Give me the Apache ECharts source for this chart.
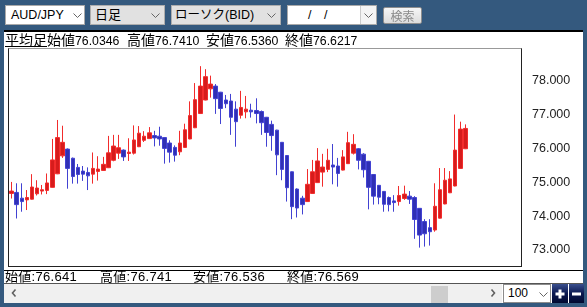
<!DOCTYPE html>
<html><head><meta charset="utf-8">
<script src="https://cdn.jsdelivr.net/npm/echarts@6/dist/echarts.min.js"></script>
<style>
html,body{margin:0;padding:0;width:587px;height:307px;overflow:hidden;background:#34597e;
  font-family:"Liberation Sans","Noto Sans CJK JP",sans-serif;}
.a{position:absolute;box-sizing:border-box;}
.sel{height:20px;border:1px solid #a9a9a9;}
.sel span{position:absolute;top:0;line-height:18px;font-size:12.5px;color:#000;white-space:nowrap;}
.sel svg{position:absolute;top:7px;}
.info{position:absolute;top:32px;height:15px;line-height:15px;font-size:14px;white-space:nowrap;
  font-family:"Noto Sans CJK JP",sans-serif;color:#000;}
.info b{font-weight:normal;font-family:"Liberation Sans",sans-serif;font-size:12.3px;}
.bot{position:absolute;top:270px;height:13px;line-height:13px;font-size:13px;white-space:nowrap;
  font-family:"Liberation Sans","Noto Sans CJK JP",sans-serif;color:#000;letter-spacing:0.3px;}
</style></head>
<body>
<div class="a" style="left:4px;top:30px;width:579px;height:273px;background:#fff;z-index:0"></div>
<div class="a" style="left:4px;top:30px;width:579px;height:2px;background:#000;z-index:1"></div>
<div class="a" style="left:8px;top:48px;width:514px;height:219px;border:1px solid #222;border-top-color:#999;z-index:1"></div>
<div class="a" style="left:4px;top:270px;width:579px;height:1px;background:#000;z-index:1"></div>
<div class="a" style="left:4px;top:283px;width:579px;height:1px;background:#555;z-index:1"></div>
<div class="a" style="left:4px;top:284px;width:498px;height:19px;background:#f0f0f0;z-index:1"></div>

<!-- toolbar -->
<div class="a sel" style="left:5px;top:5px;width:80px;background:#fff;z-index:3">
  <span style="left:5px">AUD/JPY</span>
  <svg style="left:67px" width="9" height="5"><polyline points="0.5,0.5 4.5,4.5 8.5,0.5" fill="none" stroke="#666" stroke-width="1"/></svg>
</div>
<div class="a sel" style="left:90px;top:5px;width:75px;background:#e1e1e1;border-color:#adadad;z-index:3">
  <span style="left:4px;font-size:13px">日足</span>
  <svg style="left:60px" width="9" height="5"><polyline points="0.5,0.5 4.5,4.5 8.5,0.5" fill="none" stroke="#666" stroke-width="1"/></svg>
</div>
<div class="a sel" style="left:171px;top:5px;width:110px;background:#e1e1e1;border-color:#adadad;z-index:3">
  <span style="left:3px">ローソク(BID)</span>
  <svg style="left:95px" width="9" height="5"><polyline points="0.5,0.5 4.5,4.5 8.5,0.5" fill="none" stroke="#666" stroke-width="1"/></svg>
</div>
<div class="a sel" style="left:287px;top:5px;width:90px;background:#fff;z-index:3">
  <span style="left:20px">/</span><span style="left:36px">/</span>
  <div class="a" style="left:72px;top:0;width:16px;height:18px;border-left:1px solid #ccc;background:#f4f4f4"></div>
  <svg style="left:76px" width="9" height="5"><polyline points="0.5,0.5 4.5,4.5 8.5,0.5" fill="none" stroke="#666" stroke-width="1"/></svg>
</div>
<div class="a" style="left:383px;top:7px;width:39px;height:17px;border:1px solid #8e8e8e;border-radius:2px;
  background:linear-gradient(#f6f6f6,#dcdcdc);z-index:3;text-align:center;line-height:15px;font-size:12px;color:#8a8a8a;
  font-family:'Noto Sans CJK JP',sans-serif">検索</div>

<!-- info line -->
<div class="info" style="left:5px;text-decoration:underline;z-index:3">平均足</div>
<div class="info" style="left:47px;z-index:3">始値<b>76.0346</b></div>
<div class="info" style="left:127px;z-index:3">高値<b>76.7410</b></div>
<div class="info" style="left:206px;z-index:3">安値<b>76.5360</b></div>
<div class="info" style="left:285px;z-index:3">終値<b>76.6217</b></div>

<!-- bottom info -->
<div class="bot" style="left:5px;z-index:3">始値:76.641</div>
<div class="bot" style="left:100px;z-index:3">高値:76.741</div>
<div class="bot" style="left:193px;z-index:3">安値:76.536</div>
<div class="bot" style="left:287px;z-index:3">終値:76.569</div>

<!-- scrollbar -->
<div class="a" style="left:10px;top:286px;width:8px;height:14px;z-index:3">
  <svg width="8" height="14"><polyline points="5.5,3.5 2.5,7 5.5,10.5" fill="none" stroke="#606060" stroke-width="1.6"/></svg></div>
<div class="a" style="left:489px;top:286px;width:8px;height:14px;z-index:3">
  <svg width="8" height="14"><polyline points="2.5,3.5 5.5,7 2.5,10.5" fill="none" stroke="#606060" stroke-width="1.6"/></svg></div>
<div class="a" style="left:431px;top:286px;width:17px;height:17px;background:#cdcdcd;z-index:3"></div>
<div class="a" style="left:503px;top:284px;width:48px;height:19px;background:#fff;border:1px solid #8c8c8c;z-index:3">
  <span style="position:absolute;left:4px;top:0;line-height:17px;font-size:12px">100</span>
  <svg style="position:absolute;left:35px;top:7px" width="9" height="5"><polyline points="0.5,0.5 4.5,4.5 8.5,0.5" fill="none" stroke="#666" stroke-width="1"/></svg>
</div>
<div class="a" style="left:552px;top:284px;width:16px;height:19px;background:linear-gradient(#3a4f8e,#0a1850 50%,#020a30);z-index:3">
  <svg width="16" height="19"><rect x="6.5" y="5.5" width="3" height="9" fill="#fff"/><rect x="3.5" y="8.5" width="9" height="3" fill="#fff"/></svg></div>
<div class="a" style="left:569px;top:284px;width:15px;height:19px;background:linear-gradient(#3a4f8e,#0a1850 50%,#020a30);z-index:3">
  <svg width="15" height="19"><rect x="3" y="8.5" width="9" height="3" fill="#fff"/></svg></div>

<div id="chart" class="a" style="left:0;top:0;width:587px;height:307px;z-index:2"></div>
<script>
const opens  = [74.67,74.70,74.53,74.48,74.50,74.66,74.74,74.76,74.85,75.25,
  75.78,75.98,75.71,75.44,75.33,75.29,75.24,75.32,75.35,75.43,
  75.65,75.86,75.95,75.85,75.86,76.05,76.24,76.29,76.38,76.36,
  76.32,76.16,76.03,75.90,76.03,76.28,76.61,77.03,77.43,77.76,
  77.84,77.66,77.43,77.40,77.16,76.98,77.08,77.13,77.12,77.09,
  76.92,76.71,76.54,76.18,75.79,75.31,74.80,74.53,74.43,74.67,
  74.99,75.30,75.38,75.51,75.48,75.36,75.55,75.86,75.99,75.83,
  75.62,75.23,74.91,74.73,74.55,74.45,74.43,74.52,74.59,74.55,
  74.23,73.84,73.66,73.59,73.94,74.36,74.69,74.89,75.41,75.99];
const closes = [74.74,74.34,74.43,74.55,74.86,74.83,74.78,74.98,75.66,76.32,
  76.18,75.41,75.17,75.23,75.24,75.19,75.41,75.39,75.53,75.87,
  76.07,76.02,75.75,75.89,76.25,76.45,76.36,76.46,76.31,76.28,
  76.00,75.89,75.80,76.16,76.55,76.97,77.44,77.84,78.12,77.90,
  77.47,77.18,77.32,76.92,76.79,77.21,77.16,77.08,77.03,76.76,
  76.47,76.38,75.81,75.38,74.84,74.28,74.24,74.34,74.94,75.31,
  75.63,75.45,75.65,75.45,75.26,75.75,76.17,76.12,75.65,75.37,
  74.85,74.59,74.56,74.35,74.34,74.40,74.61,74.65,74.50,73.90,
  73.44,73.48,73.54,74.29,74.78,75.06,75.10,75.95,76.57,76.59];
const lows   = [74.52,73.93,74.13,74.18,74.49,74.61,74.64,74.65,74.84,75.24,
  75.72,74.81,74.96,74.96,75.04,74.77,74.96,75.05,75.34,75.42,
  75.62,75.69,75.63,75.63,75.82,76.04,76.19,76.28,76.06,76.08,
  75.55,75.58,75.61,75.80,76.02,76.27,76.60,77.02,77.42,77.50,
  77.02,76.72,77.19,76.40,76.05,76.88,76.89,76.91,76.74,76.40,
  76.05,75.93,75.21,75.06,74.43,73.91,73.96,74.05,74.42,74.66,
  74.98,74.87,75.30,74.94,74.87,75.35,75.54,75.82,75.38,75.14,
  74.20,74.34,74.35,74.13,74.14,74.13,74.31,74.48,74.36,73.33,
  73.07,73.10,73.13,73.54,73.93,74.35,74.68,74.88,75.40,75.98];
const highs  = [75.01,74.97,74.97,74.77,75.24,75.06,74.92,75.26,76.28,76.84,
  76.67,76.00,75.73,75.54,75.48,75.44,75.88,75.77,75.75,76.37,
  76.40,76.40,75.97,76.30,76.68,76.66,76.51,76.63,76.52,76.64,
  76.33,76.24,76.09,76.52,76.73,77.39,77.93,78.43,78.34,78.15,
  77.90,77.67,77.58,77.61,77.39,77.70,77.55,77.32,77.48,77.12,
  76.93,76.82,76.55,76.19,75.80,75.32,74.82,74.60,75.39,75.66,
  76.01,75.84,75.99,76.13,75.72,75.95,76.49,76.42,76.01,75.86,
  75.63,75.24,74.92,74.74,74.58,74.62,74.89,74.90,74.74,74.59,
  74.24,73.91,73.91,74.97,75.42,75.42,75.33,77.00,76.79,76.71];
const yTicks = [73, 74, 75, 76, 77, 78];
const categories = opens.map((_, i) => 'D' + (i + 1));

const candleData = opens.map((o, i) => [o, closes[i], lows[i], highs[i]]);

const chart = echarts.init(document.getElementById('chart'), null, {width: 587, height: 307});
chart.setOption({
  animation: false,
  backgroundColor: 'transparent',
  grid: {left: 9, right: 119, top: 48, bottom: 41, show: false},
  xAxis: {
    type: 'category', data: categories, boundaryGap: true,
    axisLine: {show: false}, axisTick: {show: false}, axisLabel: {show: false}, splitLine: {show: false}
  },
  yAxis: {
    type: 'value', position: 'right', min: 72.527, max: 78.966, scale: true,
    axisLine: {show: false}, axisTick: {show: false}, splitLine: {show: false},
    axisLabel: {
      customValues: yTicks, margin: 64, align: 'left',
      color: '#222', fontSize: 12.5, fontFamily: 'Liberation Sans',
      formatter: v => v.toFixed(3)
    }
  },
  series: [{
    type: 'candlestick',
    data: candleData,
    barWidth: 4,
    itemStyle: {
      color: '#d61c1c', color0: '#3030b4',
      borderColor: '#f22c2c', borderColor0: '#4242d2', borderWidth: 1
    }
  }]
});
</script>
</body></html>
